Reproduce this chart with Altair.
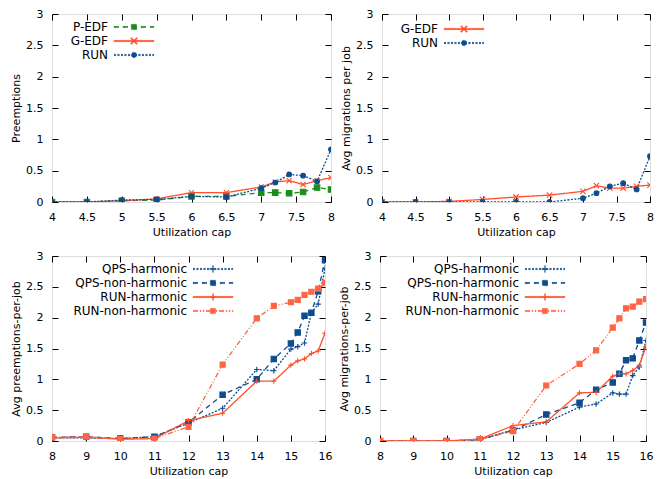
import altair as alt
import pandas as pd

# ---------------- data ----------------
top_x = [4, 4.5, 5, 5.5, 6, 6.5, 7, 7.2, 7.4, 7.6, 7.8, 8]
pedf_preemptions = [0, 0, 0.02, 0.03, 0.09, 0.09, 0.15, 0.15, 0.14, 0.16, 0.23, 0.20]
gedf_preemptions = [0, 0, 0.02, 0.05, 0.15, 0.15, 0.24, 0.32, 0.34, 0.28, 0.34, 0.39]
run_preemptions = [0, 0, 0.03, 0.04, 0.09, 0.08, 0.22, 0.31, 0.44, 0.42, 0.33, 0.84]
gedf_migrations = [0, 0, 0.01, 0.04, 0.08, 0.11, 0.17, 0.26, 0.22, 0.22, 0.25, 0.27]
run_migrations = [0, 0, 0, 0, 0, 0, 0.06, 0.14, 0.25, 0.30, 0.20, 0.73]

bottom_x = [8, 9, 10, 11, 12, 13, 14, 14.5, 15, 15.2, 15.4, 15.6, 15.8, 16]
qps_h_preempt = [0.05, 0.05, 0.04, 0.07, 0.29, 0.53, 1.16, 1.14, 1.49, 1.53, 1.59, 2.08, 2.22, 2.80]
qps_nh_preempt = [0.06, 0.07, 0.04, 0.07, 0.30, 0.75, 1.00, 1.33, 1.58, 1.76, 2.03, 2.08, 2.43, 2.93]
run_h_preempt = [0.05, 0.06, 0.03, 0.04, 0.33, 0.45, 0.97, 0.97, 1.23, 1.30, 1.33, 1.42, 1.46, 1.75]
run_nh_preempt = [0.06, 0.07, 0.03, 0.04, 0.23, 1.24, 1.99, 2.19, 2.25, 2.29, 2.37, 2.42, 2.47, 2.56]
qps_h_migr = [0, 0, 0, 0.02, 0.18, 0.30, 0.55, 0.60, 0.78, 0.76, 0.76, 1.06, 1.20, 1.63]
qps_nh_migr = [0, 0, 0, 0.02, 0.17, 0.43, 0.62, 0.83, 0.95, 1.09, 1.31, 1.34, 1.63, 1.92]
run_h_migr = [0, 0, 0, 0.03, 0.25, 0.31, 0.78, 0.79, 1.05, 1.09, 1.09, 1.14, 1.23, 1.53]
run_nh_migr = [0, 0, 0, 0.03, 0.16, 0.90, 1.25, 1.47, 1.84, 1.99, 2.15, 2.18, 2.26, 2.30]

top_ticks = [4, 4.5, 5, 5.5, 6, 6.5, 7, 7.5, 8]
bottom_ticks = [8, 9, 10, 11, 12, 13, 14, 15, 16]
y_ticks = [0, 0.5, 1, 1.5, 2, 2.5, 3]

# ---------------- style ----------------
FONT = "DejaVu Sans"
FS = 11
GREEN = "#1c8c1c"
ORANGE = "#ff4f2b"
ORANGE2 = "#ff6444"
BLUE = "#0c4d8f"

X_PATH = "M-1,-1L1,1M1,-1L-1,1"
PLUS_PATH = "M-1,0L1,0M0,-1L0,1"

# legend sample glyphs (filled geometry, unit = 5px)
U = 5.0
TH = 0.13


def rect(x0, y0, x1, y1):
    return "M%.3f,%.3fL%.3f,%.3fL%.3f,%.3fL%.3f,%.3fZ" % (x0, y0, x1, y0, x1, y1, x0, y1)


def dash_line(dash, x0=-4.0, x1=4.0):
    if dash[1] == 0:
        return rect(x0, -TH, x1, TH)
    out, x, i = "", x0, 0
    while x < x1:
        seg = dash[i % len(dash)] / U
        if i % 2 == 0:
            out += rect(x, -TH, min(x + seg, x1), TH)
        x += seg
        i += 1
    return out


def diag(a, d, sign):
    if sign > 0:
        return "M%.3f,%.3fL%.3f,%.3fL%.3f,%.3fL%.3f,%.3fZ" % (
            -a + d, -a - d, a + d, a - d, a - d, a + d, -a - d, -a + d)
    return "M%.3f,%.3fL%.3f,%.3fL%.3f,%.3fL%.3f,%.3fZ" % (
        a - d, -a - d, a + d, -a + d, -a + d, a + d, -a - d, a - d)


M_SQUARE = rect(-0.55, -0.55, 0.55, 0.55)
M_CIRCLE = "M0.55,0A0.55,0.55,0,1,1,-0.55,0A0.55,0.55,0,1,1,0.55,0Z"
M_X = diag(0.6, 0.09, 1) + diag(0.6, 0.09, -1)
M_PLUS = rect(-0.65, -0.1, 0.65, 0.1) + rect(-0.1, -0.65, 0.1, 0.65)

STYLE = {
    "P-EDF": dict(color=GREEN, dash=[5, 4], shape="square", size=26, mk=M_SQUARE),
    "G-EDF": dict(color=ORANGE, dash=[1, 0], shape=X_PATH, size=30, mk=M_X),
    "RUN": dict(color=BLUE, dash=[2, 1.5], shape="circle", size=22, mk=M_CIRCLE),
    "QPS-harmonic": dict(color=BLUE, dash=[2, 1.5], shape=PLUS_PATH, size=30, mk=M_PLUS),
    "QPS-non-harmonic": dict(color=BLUE, dash=[5, 4], shape="square", size=28, mk=M_SQUARE),
    "RUN-harmonic": dict(color=ORANGE, dash=[1, 0], shape=PLUS_PATH, size=30, mk=M_PLUS),
    "RUN-non-harmonic": dict(color=ORANGE2, dash=[5, 2, 1, 2, 1, 2], shape="square", size=26, mk=M_SQUARE),
}
for _n, _s in STYLE.items():
    _s["lpath"] = dash_line(_s["dash"]) + _s["mk"]


def make_df(xs, series):
    rows = []
    for name, vals in series:
        for x, y in zip(xs, vals):
            rows.append({"x": x, "y": y, "s": name})
    return pd.DataFrame(rows)


def pick_expr(order, key):
    expr = "'" + STYLE[order[-1]][key] + "'"
    for name in reversed(order[:-1]):
        expr = "datum.value === '" + name + "' ? '" + STYLE[name][key] + "' : " + expr
    return expr


def panel(xs, series, xdom, xticks, ytitle, w, h, lx, ly, ylp=9):
    order = [n for n, _ in series]
    df = make_df(xs, series)
    colors = [STYLE[n]["color"] for n in order]
    dashes = [STYLE[n]["dash"] for n in order]
    # marker scales use a reversed domain so their (hidden) legends never merge
    rorder = list(reversed(order))
    rcolors = [STYLE[n]["color"] for n in rorder]
    rshapes = [STYLE[n]["shape"] for n in rorder]
    rsizes = [STYLE[n]["size"] for n in rorder]

    xscale = alt.Scale(domain=xdom, nice=False, zero=False)
    yscale = alt.Scale(domain=[0, 3], nice=False)

    legend = alt.Legend(
        title=None, orient="none", legendX=lx, legendY=ly,
        padding=0, symbolSize=100, symbolStrokeWidth=0.4,
        symbolType={"expr": pick_expr(order, "lpath")},
        symbolFillColor={"expr": pick_expr(order, "color")},
        labelAlign="right", labelOffset={"expr": "-32"}, labelFont=FONT, labelFontSize=12,
        labelColor="black", labelLimit=300, rowPadding=2,
    )

    axis_common = dict(grid=False, domain=False, tickSize=6, tickColor="black",
                       tickWidth=1, labelFont=FONT, labelFontSize=FS, titleFont=FONT,
                       titleFontSize=FS, titleFontWeight="normal", labelColor="black",
                       titleColor="black", labelFlush=False)

    base = alt.Chart(df)
    lines = base.mark_line(strokeWidth=1.3, clip=True).encode(
        x=alt.X("x:Q", scale=xscale, axis=alt.Axis(
            orient="bottom", values=xticks, format="~g", offset=-6,
            labelPadding=9, title="Utilization cap", titlePadding=4, **axis_common)),
        y=alt.Y("y:Q", scale=yscale, axis=alt.Axis(
            orient="left", values=y_ticks, format="~g", offset=-6,
            labelPadding=ylp, title=ytitle, titlePadding=4, **axis_common)),
        color=alt.Color("s:N", scale=alt.Scale(domain=order, range=colors),
                        sort=order, legend=legend),
        strokeDash=alt.StrokeDash("s:N", scale=alt.Scale(domain=order, range=dashes),
                                  sort=order, legend=legend),
        order=alt.Order("x:Q"),
    )
    points = base.mark_point(filled=True, strokeWidth=1.1, opacity=1, clip=True).encode(
        x=alt.X("x:Q", scale=xscale, axis=alt.Axis(
            orient="top", values=xticks, offset=-6, labels=False, title=None,
            **axis_common)),
        y=alt.Y("y:Q", scale=yscale, axis=alt.Axis(
            orient="right", values=y_ticks, offset=-6, labels=False, title=None,
            **axis_common)),
        fill=alt.Fill("s:N", scale=alt.Scale(domain=rorder, range=rcolors), legend=None),
        stroke=alt.Stroke("s:N", scale=alt.Scale(domain=rorder, range=rcolors), legend=None),
        shape=alt.Shape("s:N", scale=alt.Scale(domain=rorder, range=rshapes), legend=None),
        size=alt.Size("s:N", scale=alt.Scale(domain=rorder, range=rsizes), legend=None),
    )
    return alt.layer(lines, points).resolve_axis(x="independent", y="independent").properties(
        width=w, height=h)


tl = panel(top_x, [("P-EDF", pedf_preemptions), ("G-EDF", gedf_preemptions),
                   ("RUN", run_preemptions)],
           [4, 8], top_ticks, "Preemptions", 279, 188, 76, 7)
tr = panel(top_x, [("G-EDF", gedf_migrations), ("RUN", run_migrations)],
           [4, 8], top_ticks, "Avg migrations per job", 268, 188, 76, 9)
bl = panel(bottom_x, [("QPS-harmonic", qps_h_preempt), ("QPS-non-harmonic", qps_nh_preempt),
                      ("RUN-harmonic", run_h_preempt), ("RUN-non-harmonic", run_nh_preempt)],
           [8, 16], bottom_ticks, "Avg preemptions-per-job", 273, 185, 155, 7)
br = panel(bottom_x, [("QPS-harmonic", qps_h_migr), ("QPS-non-harmonic", qps_nh_migr),
                      ("RUN-harmonic", run_h_migr), ("RUN-non-harmonic", run_nh_migr)],
           [8, 16], bottom_ticks, "Avg migrations-per-job", 266, 185, 159, 7)

IND = dict(color="independent", strokeDash="independent", fill="independent",
           stroke="independent", shape="independent", size="independent")

top_row = alt.hconcat(tl, tr, spacing=5).resolve_scale(**IND).resolve_legend(
    color="independent", strokeDash="independent")
bottom_row = alt.hconcat(bl, br, spacing=5).resolve_scale(**IND).resolve_legend(
    color="independent", strokeDash="independent")

chart = alt.vconcat(top_row, bottom_row, spacing=11).resolve_scale(**IND).resolve_legend(
    color="independent", strokeDash="independent").properties(
    padding={"left": 2, "top": -1, "right": 0, "bottom": 0}
).configure_view(stroke="black", strokeWidth=1.2).configure(font=FONT)

chart.save("out.html", embed_options={"renderer": "svg", "actions": False})
